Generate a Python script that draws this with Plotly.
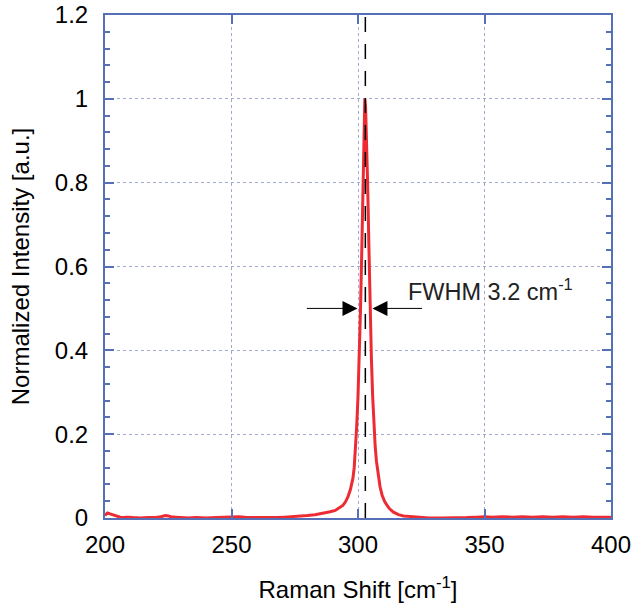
import plotly.graph_objects as go

# ---- data ----
raman_shift = [200, 201, 202, 203, 204, 205, 206, 207, 209, 211, 214, 217, 220, 222, 224, 225,
               226, 228, 230, 233, 236, 240, 244, 247, 249, 251, 253, 256, 260, 264, 268, 271,
               274, 277, 280, 283, 285, 287, 289, 291, 293, 294, 295, 296, 297, 298, 298.5, 299,
               299.5, 300, 300.5, 301, 301.5, 302, 302.4, 302.7, 303.0, 303.4, 303.8, 304.3,
               304.8, 305.3, 305.8, 306.3, 306.8, 307.3, 308, 308.7, 309.5, 310.5, 311.5, 312.5,
               314, 316, 318, 321, 324, 328, 333, 338, 343, 347, 350, 353, 357, 361, 365, 369,
               373, 377, 381, 385, 389, 393, 397, 400]
intensity = [0.006, 0.012, 0.010, 0.008, 0.005, 0.004, 0.002, 0.001, 0.002, 0.001, 0.000, 0.001,
             0.001, 0.003, 0.006, 0.005, 0.003, 0.002, 0.001, 0.000, 0.001, 0.000, 0.001, 0.002,
             0.003, 0.002, 0.003, 0.001, 0.001, 0.000, 0.001, 0.002, 0.003, 0.004, 0.006, 0.008,
             0.010, 0.012, 0.015, 0.018, 0.025, 0.030, 0.038, 0.050, 0.068, 0.095, 0.12, 0.16,
             0.22, 0.29, 0.38, 0.50, 0.64, 0.82, 0.95, 1.00, 0.98, 0.91, 0.80, 0.65,
             0.50, 0.38, 0.29, 0.22, 0.17, 0.135, 0.10, 0.075, 0.055, 0.040, 0.030, 0.022,
             0.014, 0.008, 0.005, 0.003, 0.001, 0.000, 0.000, 0.000, 0.001, 0.002, 0.003, 0.002,
             0.003, 0.002, 0.003, 0.002, 0.003, 0.002, 0.003, 0.002, 0.003, 0.002, 0.001, 0.002]

x_ticks = [200, 250, 300, 350, 400]
y_ticks = [0, 0.2, 0.4, 0.6, 0.8, 1, 1.2]

peak_center = 302.9
fwhm_level = 0.5
left_arrow = (279.2, 299.8)    # tail, tip
right_arrow = (325.9, 305.7)   # tail, tip
label_pos = (318.8, 0.545)
label_text = "FWHM 3.2 cm<sup>-1</sup>"

# ---- styles ----
FONT = "Arial, 'Liberation Sans', sans-serif"
AXIS_BLUE = "#5670B8"
GRID = "#A3AAD2"
RED = "#EC2B33"

fig = go.Figure()
fig.add_trace(go.Scatter(x=raman_shift, y=intensity, mode="lines",
                         line=dict(color=RED, width=3), showlegend=False))

fig.add_shape(type="line", x0=peak_center, x1=peak_center, y0=0, y1=1.2,
              xref="x", yref="y", layer="above",
              line=dict(color="black", width=1.5, dash="15px,12px"))

for tail, tip in (left_arrow, right_arrow):
    fig.add_annotation(x=tip, y=fwhm_level, ax=tail, ay=fwhm_level,
                       xref="x", yref="y", axref="x", ayref="y",
                       text="", showarrow=True, arrowhead=2, arrowsize=3,
                       arrowwidth=1, arrowcolor="black")

fig.add_annotation(x=label_pos[0], y=label_pos[1], xref="x", yref="y",
                   text=label_text, showarrow=False, xanchor="left", yanchor="middle",
                   font=dict(family=FONT, size=23.5, color="#222222"))

axis_common = dict(showline=True, linecolor=AXIS_BLUE, linewidth=2, mirror="ticks",
                   ticks="inside", tickcolor=AXIS_BLUE, ticklen=9, tickwidth=1.5,
                   showgrid=True, gridcolor=GRID, gridwidth=1, griddash="dot",
                   zeroline=False, tickfont=dict(family=FONT, size=24, color="black"))

fig.update_xaxes(range=[200, 400], tickvals=x_ticks, ticklabelstandoff=4,
                 title=dict(text="Raman Shift [cm<sup>-1</sup>]", standoff=24,
                            font=dict(family=FONT, size=24, color="black")),
                 **axis_common)
fig.update_yaxes(range=[0, 1.2], tickvals=y_ticks, ticktext=[str(v) for v in ["0", "0.2", "0.4", "0.6", "0.8", "1", "1.2"]],
                 ticklabelstandoff=10,
                 minor=dict(dtick=0.04, ticks="inside", ticklen=5, tickcolor=AXIS_BLUE,
                            showgrid=False),
                 title=dict(text="Normalized Intensity [a.u.]", standoff=18,
                            font=dict(family=FONT, size=24, color="black")),
                 **axis_common)

fig.update_layout(width=633, height=611, margin=dict(l=105, r=22, t=15, b=93, autoexpand=False),
                  paper_bgcolor="white", plot_bgcolor="white")

fig.write_html("out.html")
